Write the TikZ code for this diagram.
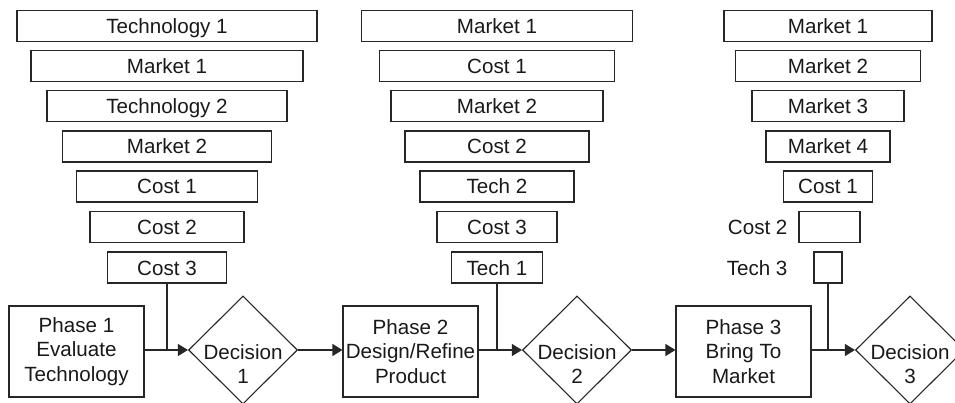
\documentclass[tikz,border=0pt]{standalone}
\usepackage{fontspec}
\setmainfont{Liberation Sans}
\usetikzlibrary{shapes.geometric,arrows.meta}
\begin{document}
\begin{tikzpicture}[x=1pt,y=-1pt,
  every node/.style={font=\fontsize{20.6}{24.5}\selectfont, text=black!90},
  line width=1.1pt, draw=black!85,
  bx/.style={draw=black!85, minimum height=31pt, inner sep=0pt, text height=15pt, text depth=0pt},
  phase/.style={draw=black!85, minimum width=135pt, minimum height=91pt, align=center, inner sep=0pt},
  dec/.style={draw=black!85, diamond, minimum width=109pt, minimum height=108pt, inner sep=0pt},
  dectext/.style={align=center, inner sep=0pt},
  arr/.style={-{Triangle[length=10pt,width=12pt]}},
  side/.style={inner sep=0pt, text height=15pt, text depth=0pt}
]
\useasboundingbox (0,0) rectangle (955,403);
\clip (0,0) rectangle (955,403);

% column 1
\node[bx, minimum width=300pt] (c1a) at (167,26) {Technology 1};
\node[bx, minimum width=272pt] (c1b) at (167,66) {Market 1};
\node[bx, minimum width=240pt] (c1c) at (167,106) {Technology 2};
\node[bx, minimum width=209pt] (c1d) at (167,146.5) {Market 2};
\node[bx, minimum width=181pt] (c1e) at (167,186.5) {Cost 1};
\node[bx, minimum width=154pt] (c1f) at (167,227) {Cost 2};
\node[bx, minimum width=119pt] (c1g) at (167,267.5) {Cost 3};

% column 2
\node[bx, minimum width=271pt] (c2a) at (497,26) {Market 1};
\node[bx, minimum width=235pt] (c2b) at (497,66) {Cost 1};
\node[bx, minimum width=212pt] (c2c) at (497,106) {Market 2};
\node[bx, minimum width=184pt] (c2d) at (497,146.5) {Cost 2};
\node[bx, minimum width=154pt] (c2e) at (497,186.5) {Tech 2};
\node[bx, minimum width=120pt] (c2f) at (497,227) {Cost 3};
\node[bx, minimum width=91pt] (c2g) at (497,267.5) {Tech 1};

% column 3
\node[bx, minimum width=208pt] (c3a) at (828,26) {Market 1};
\node[bx, minimum width=185pt] (c3b) at (828,66) {Market 2};
\node[bx, minimum width=152pt] (c3c) at (828,106) {Market 3};
\node[bx, minimum width=124pt] (c3d) at (828,146.5) {Market 4};
\node[bx, minimum width=89pt] (c3e) at (828,186.5) {Cost 1};
\node[bx, minimum width=61pt] (c3f) at (829.5,227) {};
\node[bx, minimum width=28pt] (c3g) at (828,267.5) {};
\node[side, anchor=east] (l3f) at (788,227) {Cost 2};
\node[side, anchor=east] (l3g) at (788,267.5) {Tech 3};

% phases
\node[phase] (p1) at (76.5,351.5) {Phase 1\\Evaluate\\Technology};
\node[phase] (p2) at (410.5,351.5) {Phase 2\\Design/Refine\\Product};
\node[phase] (p3) at (743.5,351.5) {Phase 3\\Bring To\\Market};

% decisions
\node[dec] (d1) at (243,350) {};
\node[dec] (d2) at (577,350) {};
\node[dec] (d3) at (910,350) {};
\node[dectext] (t1) at (243,364) {Decision\\1};
\node[dectext] (t2) at (577,364) {Decision\\2};
\node[dectext] (t3) at (910,364) {Decision\\3};

% connectors
\coordinate (j1) at (c1g.south |- d1.west);
\coordinate (j2) at (c2g.south |- d2.west);
\coordinate (j3) at (c3g.south |- d3.west);

\draw[arr] (p1.east |- d1.west) -- (d1.west);
\draw (c1g.south) -- (j1);
\draw[arr] (d1.east) -- (p2.west |- d1.east);
\draw[arr] (p2.east |- d2.west) -- (d2.west);
\draw (c2g.south) -- (j2);
\draw[arr] (d2.east) -- (p3.west |- d2.east);
\draw[arr] (p3.east |- d3.west) -- (d3.west);
\draw (c3g.south) -- (j3);
\end{tikzpicture}
\end{document}
